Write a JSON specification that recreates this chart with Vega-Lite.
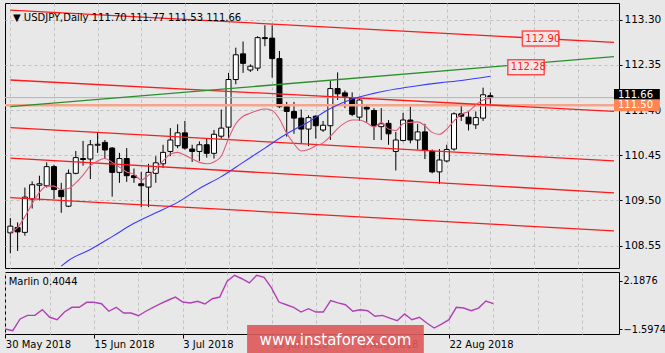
{
  "$schema": "https://vega.github.io/schema/vega-lite/v6.json",
  "background": "#e8e8e8",
  "padding": {"left": 3, "top": 2, "right": 0, "bottom": 0},
  "spacing": 2,
  "config": {
    "font": "DejaVu Sans",
    "view": {"stroke": "#000000", "strokeWidth": 1},
    "axis": {"labelFont": "DejaVu Sans", "labelColor": "#000000", "tickColor": "#000000", "gridColor": "#c0c0c0", "gridDash": [3, 3], "gridWidth": 1}
  },
  "datasets": {
    "candles": [
      {"i":0,"o":108.82,"h":109.13,"l":108.39,"c":108.96},
      {"i":1,"o":108.93,"h":109.04,"l":108.44,"c":108.84},
      {"i":2,"o":108.83,"h":109.77,"l":108.76,"c":109.57},
      {"i":3,"o":109.53,"h":109.90,"l":109.33,"c":109.83},
      {"i":4,"o":109.82,"h":110.02,"l":109.50,"c":109.85},
      {"i":5,"o":109.81,"h":110.30,"l":109.77,"c":110.21},
      {"i":6,"o":110.21,"h":110.25,"l":109.53,"c":109.73},
      {"i":7,"o":109.71,"h":109.87,"l":109.24,"c":109.58},
      {"i":8,"o":109.38,"h":110.15,"l":109.36,"c":110.07},
      {"i":9,"o":110.07,"h":110.54,"l":110.05,"c":110.40},
      {"i":10,"o":110.38,"h":110.75,"l":110.23,"c":110.36},
      {"i":11,"o":110.37,"h":110.77,"l":109.95,"c":110.67},
      {"i":12,"o":110.66,"h":110.94,"l":110.50,"c":110.68},
      {"i":13,"o":110.72,"h":110.77,"l":110.37,"c":110.56},
      {"i":14,"o":110.60,"h":110.62,"l":109.58,"c":110.09},
      {"i":15,"o":110.09,"h":110.50,"l":109.87,"c":110.38},
      {"i":16,"o":110.38,"h":110.60,"l":109.89,"c":110.02},
      {"i":17,"o":110.02,"h":110.17,"l":109.87,"c":109.98},
      {"i":18,"o":109.85,"h":110.10,"l":109.36,"c":109.81},
      {"i":19,"o":109.78,"h":110.27,"l":109.36,"c":110.09},
      {"i":20,"o":110.07,"h":110.43,"l":109.87,"c":110.29},
      {"i":21,"o":110.27,"h":110.67,"l":110.18,"c":110.51},
      {"i":22,"o":110.53,"h":111.02,"l":110.43,"c":110.77},
      {"i":23,"o":110.65,"h":111.10,"l":110.60,"c":110.92},
      {"i":24,"o":110.92,"h":111.17,"l":110.57,"c":110.60},
      {"i":25,"o":110.58,"h":110.67,"l":110.31,"c":110.53},
      {"i":26,"o":110.53,"h":110.74,"l":110.33,"c":110.67},
      {"i":27,"o":110.67,"h":110.80,"l":110.40,"c":110.49},
      {"i":28,"o":110.49,"h":110.98,"l":110.38,"c":110.89},
      {"i":29,"o":110.85,"h":111.41,"l":110.80,"c":111.02},
      {"i":30,"o":111.04,"h":112.18,"l":110.80,"c":112.04},
      {"i":31,"o":112.04,"h":112.71,"l":111.94,"c":112.56},
      {"i":32,"o":112.58,"h":112.84,"l":112.18,"c":112.38},
      {"i":33,"o":112.24,"h":112.36,"l":112.20,"c":112.32},
      {"i":34,"o":112.28,"h":112.95,"l":112.22,"c":112.92},
      {"i":35,"o":112.92,"h":113.18,"l":112.74,"c":112.90},
      {"i":36,"o":112.91,"h":113.18,"l":112.08,"c":112.48},
      {"i":37,"o":112.48,"h":112.64,"l":111.44,"c":111.47},
      {"i":38,"o":111.47,"h":111.57,"l":110.84,"c":111.37},
      {"i":39,"o":111.37,"h":111.57,"l":110.90,"c":111.23},
      {"i":40,"o":111.23,"h":111.41,"l":110.70,"c":111.00},
      {"i":41,"o":111.00,"h":111.29,"l":110.64,"c":111.24},
      {"i":42,"o":111.27,"h":111.29,"l":110.80,"c":111.07},
      {"i":43,"o":110.98,"h":111.17,"l":110.94,"c":111.08},
      {"i":44,"o":111.07,"h":112.01,"l":110.77,"c":111.85},
      {"i":45,"o":111.85,"h":112.19,"l":111.61,"c":111.74},
      {"i":46,"o":111.76,"h":111.81,"l":111.44,"c":111.69},
      {"i":47,"o":111.65,"h":111.77,"l":111.27,"c":111.31},
      {"i":48,"o":111.25,"h":111.64,"l":111.17,"c":111.61},
      {"i":49,"o":111.46,"h":111.52,"l":111.14,"c":111.42},
      {"i":50,"o":111.39,"h":111.44,"l":110.77,"c":111.07},
      {"i":51,"o":111.05,"h":111.44,"l":110.77,"c":111.11},
      {"i":52,"o":111.12,"h":111.19,"l":110.67,"c":110.90},
      {"i":53,"o":110.53,"h":110.94,"l":110.13,"c":110.77},
      {"i":54,"o":110.76,"h":111.34,"l":110.74,"c":111.19},
      {"i":55,"o":111.19,"h":111.47,"l":110.70,"c":110.77},
      {"i":56,"o":110.77,"h":111.11,"l":110.57,"c":110.94},
      {"i":57,"o":110.94,"h":111.11,"l":110.37,"c":110.56},
      {"i":58,"o":110.53,"h":110.57,"l":110.07,"c":110.10},
      {"i":59,"o":110.10,"h":110.58,"l":109.85,"c":110.35},
      {"i":60,"o":110.33,"h":110.67,"l":110.30,"c":110.57},
      {"i":61,"o":110.58,"h":111.35,"l":110.55,"c":111.32},
      {"i":62,"o":111.32,"h":111.51,"l":111.17,"c":111.27},
      {"i":63,"o":111.25,"h":111.37,"l":110.97,"c":111.11},
      {"i":64,"o":111.09,"h":111.37,"l":111.00,"c":111.24},
      {"i":65,"o":111.23,"h":111.87,"l":111.17,"c":111.72},
      {"i":66,"o":111.70,"h":111.77,"l":111.53,"c":111.66}
    ],
    "fast": [
      {"i":0,"p":108.83},{"i":1,"p":108.93},{"i":2,"p":109.16},{"i":3,"p":109.43},{"i":4,"p":109.67},
      {"i":5,"p":109.80},{"i":6,"p":109.80},{"i":7,"p":109.73},{"i":8,"p":109.75},{"i":9,"p":109.87},
      {"i":10,"p":110.03},{"i":11,"p":110.23},{"i":12,"p":110.33},{"i":13,"p":110.38},{"i":14,"p":110.30},
      {"i":15,"p":110.20},{"i":16,"p":110.10},{"i":17,"p":110.05},{"i":18,"p":109.93},{"i":19,"p":110.03},
      {"i":20,"p":110.17},{"i":21,"p":110.33},{"i":22,"p":110.47},{"i":23,"p":110.51},{"i":24,"p":110.45},
      {"i":25,"p":110.37},{"i":26,"p":110.30},{"i":27,"p":110.27},{"i":28,"p":110.31},{"i":29,"p":110.43},
      {"i":30,"p":110.80},{"i":31,"p":111.11},{"i":32,"p":111.27},{"i":33,"p":111.33},{"i":34,"p":111.39},
      {"i":35,"p":111.42},{"i":36,"p":111.39},{"i":37,"p":111.21},{"i":38,"p":110.91},{"i":39,"p":110.69},
      {"i":40,"p":110.54},{"i":41,"p":110.57},{"i":42,"p":110.65},{"i":43,"p":110.71},{"i":44,"p":110.85},
      {"i":45,"p":111.01},{"i":46,"p":111.13},{"i":47,"p":111.19},{"i":48,"p":111.19},{"i":49,"p":111.13},
      {"i":50,"p":111.04},{"i":51,"p":111.14},{"i":52,"p":111.00},{"i":53,"p":110.97},{"i":54,"p":111.11},
      {"i":55,"p":111.14},{"i":56,"p":111.15},{"i":57,"p":111.07},{"i":58,"p":110.93},{"i":59,"p":110.89},
      {"i":60,"p":111.00},{"i":61,"p":111.17},{"i":62,"p":111.31},{"i":63,"p":111.37},{"i":64,"p":111.51},
      {"i":65,"p":111.61},{"i":66,"p":111.65}
    ],
    "slow": [
      {"i":7,"p":108.12},{"i":8,"p":108.24},{"i":11,"p":108.47},{"i":14,"p":108.74},{"i":17,"p":109.02},
      {"i":20,"p":109.24},{"i":23,"p":109.46},{"i":26,"p":109.75},{"i":29,"p":110.00},{"i":32,"p":110.30},
      {"i":35,"p":110.60},{"i":38,"p":110.90},{"i":41,"p":111.15},{"i":44,"p":111.43},{"i":47,"p":111.63},
      {"i":50,"p":111.75},{"i":53,"p":111.84},{"i":56,"p":111.91},{"i":59,"p":111.97},{"i":62,"p":112.02},
      {"i":66,"p":112.11}
    ],
    "channel": [
      {"line":"L1","i":0,"p":113.50},{"line":"L1","i":83,"p":112.82},
      {"line":"L2","i":0,"p":112.03},{"line":"L2","i":83,"p":111.37},
      {"line":"L3","i":0,"p":111.03},{"line":"L3","i":83,"p":110.33},
      {"line":"L4","i":0,"p":110.39},{"line":"L4","i":83,"p":109.66},
      {"line":"L5","i":0,"p":109.56},{"line":"L5","i":83,"p":108.86},
      {"line":"G","i":0,"p":111.47},{"line":"G","i":83,"p":112.52}
    ],
    "levels": [
      {"label":"112.90","level":112.90,"from":70.4,"to":75.4},
      {"label":"112.28","level":112.30,"from":68.4,"to":73.4}
    ],
    "marlin": [
      {"i":0,"v":-1.59},{"i":1,"v":-1.72},{"i":2,"v":-0.80},{"i":3,"v":-0.52},{"i":4,"v":-0.52},
      {"i":5,"v":-0.07},{"i":6,"v":-0.67},{"i":7,"v":-0.86},{"i":8,"v":-0.26},{"i":9,"v":0.11},
      {"i":10,"v":0.11},{"i":11,"v":0.50},{"i":12,"v":0.50},{"i":13,"v":0.39},{"i":14,"v":-0.20},
      {"i":15,"v":0.11},{"i":16,"v":-0.34},{"i":17,"v":-0.34},{"i":18,"v":-0.55},{"i":19,"v":-0.20},
      {"i":20,"v":0.11},{"i":21,"v":0.39},{"i":22,"v":0.66},{"i":23,"v":0.91},{"i":24,"v":0.52},
      {"i":25,"v":0.45},{"i":26,"v":0.58},{"i":27,"v":0.37},{"i":28,"v":0.78},{"i":29,"v":0.91},
      {"i":30,"v":2.14},{"i":31,"v":2.61},{"i":32,"v":2.34},{"i":33,"v":2.01},{"i":34,"v":2.61},
      {"i":35,"v":2.45},{"i":36,"v":1.62},{"i":37,"v":0.52},{"i":38,"v":0.31},{"i":39,"v":0.11},
      {"i":40,"v":-0.26},{"i":41,"v":0.00},{"i":42,"v":-0.26},{"i":43,"v":-0.26},{"i":44,"v":0.63},
      {"i":45,"v":0.45},{"i":46,"v":0.31},{"i":47,"v":-0.20},{"i":48,"v":-0.08},{"i":49,"v":-0.16},
      {"i":50,"v":-0.59},{"i":51,"v":-0.52},{"i":52,"v":-0.73},{"i":53,"v":-0.94},{"i":54,"v":-0.41},
      {"i":55,"v":-0.86},{"i":56,"v":-0.67},{"i":57,"v":-1.12},{"i":58,"v":-1.51},{"i":59,"v":-1.20},
      {"i":60,"v":-0.86},{"i":61,"v":0.11},{"i":62,"v":0.05},{"i":63,"v":-0.16},{"i":64,"v":0.05},
      {"i":65,"v":0.60},{"i":66,"v":0.40}
    ]
  },
  "vconcat": [
    {
      "width": 614,
      "height": 265,
      "layer": [
        {
          "data": {"name": "candles"},
          "mark": {"type": "rule", "color": "#000000", "strokeWidth": 1, "clip": true},
          "encoding": {
            "x": {"field": "i", "type": "quantitative", "title": null,
                  "scale": {"domain": [-0.046, 83.0], "nice": false, "zero": false},
                  "axis": {"values": [0,6,12,18,24,30,36,42,48,54,60,66,72,78], "labels": false, "ticks": false, "domain": false, "grid": true, "title": null}},
            "y": {"field": "l", "type": "quantitative", "title": null,
                  "scale": {"domain": [108.186, 113.543], "nice": false, "zero": false},
                  "axis": {"orient": "right", "values": [108.55, 109.5, 110.45, 111.4, 112.35, 113.3], "format": ".2f", "grid": true, "domain": false, "tickSize": 3, "labelPadding": 2, "labelFontSize": 10.5, "labelBaseline": "middle", "title": null}},
            "y2": {"field": "h"}
          }
        },
        {
          "data": {"name": "candles"},
          "mark": {"type": "bar", "width": 5, "stroke": "#000000", "strokeWidth": 1, "clip": true},
          "encoding": {
            "x": {"field": "i", "type": "quantitative"},
            "y": {"field": "o", "type": "quantitative"},
            "y2": {"field": "c"},
            "fill": {"condition": {"test": "datum.c >= datum.o", "value": "#ffffff"}, "value": "#000000"}
          }
        },
        {
          "data": {"values": [{"price": 111.66}]},
          "mark": {"type": "rule", "color": "#b4b4b4", "strokeWidth": 1},
          "encoding": {"y": {"field": "price", "type": "quantitative"}}
        },
        {
          "data": {"values": [{"price": 111.50}]},
          "mark": {"type": "rule", "color": "#f5a58d", "strokeWidth": 2.5},
          "encoding": {"y": {"field": "price", "type": "quantitative"}}
        },
        {
          "data": {"name": "channel"},
          "mark": {"type": "line", "strokeWidth": 1.3, "clip": true},
          "encoding": {
            "x": {"field": "i", "type": "quantitative"},
            "y": {"field": "p", "type": "quantitative"},
            "color": {"field": "line", "type": "nominal", "legend": null,
                      "scale": {"domain": ["L1","L2","L3","L4","L5","G"], "range": ["#ff1a1a","#ff1a1a","#ff1a1a","#ff1a1a","#ff1a1a","#2a8f2a"]}}
          }
        },
        {
          "data": {"name": "slow"},
          "mark": {"type": "line", "color": "#3a3aff", "strokeWidth": 1.1, "interpolate": "monotone", "clip": true},
          "encoding": {
            "x": {"field": "i", "type": "quantitative"},
            "y": {"field": "p", "type": "quantitative"}
          }
        },
        {
          "data": {"name": "fast"},
          "mark": {"type": "line", "color": "#e05a76", "strokeWidth": 1.1, "interpolate": "monotone", "clip": true},
          "encoding": {
            "x": {"field": "i", "type": "quantitative"},
            "y": {"field": "p", "type": "quantitative"}
          }
        },
        {
          "data": {"name": "levels"},
          "mark": {"type": "bar", "height": 15, "fill": "#f4e6e6", "stroke": "#ff4d4d", "strokeWidth": 1.5},
          "encoding": {
            "x": {"field": "from", "type": "quantitative"},
            "x2": {"field": "to"},
            "y": {"field": "level", "type": "quantitative"}
          }
        },
        {
          "data": {"name": "levels"},
          "mark": {"type": "text", "align": "left", "baseline": "middle", "dx": 3, "fontSize": 10, "color": "#ff2020"},
          "encoding": {
            "x": {"field": "from", "type": "quantitative"},
            "y": {"field": "level", "type": "quantitative"},
            "text": {"field": "label"}
          }
        },
        {
          "data": {"values": [{"price": 111.66, "label": "111.66"}]},
          "mark": {"type": "bar", "height": 11.5, "fill": "#000000", "yOffset": -3, "clip": false},
          "encoding": {
            "x": {"datum": 83.0, "type": "quantitative"},
            "x2": {"datum": 89.3},
            "y": {"field": "price", "type": "quantitative"}
          }
        },
        {
          "data": {"values": [{"price": 111.50, "label": "111.50"}]},
          "mark": {"type": "bar", "height": 12, "fill": "#ff8552", "clip": false},
          "encoding": {
            "x": {"datum": 83.0, "type": "quantitative"},
            "x2": {"datum": 89.3},
            "y": {"field": "price", "type": "quantitative"}
          }
        },
        {
          "data": {"values": [{"price": 111.66, "label": "111.66"}]},
          "mark": {"type": "text", "align": "left", "baseline": "middle", "dx": 4, "yOffset": -3, "fontSize": 10, "color": "#ffffff", "clip": false},
          "encoding": {
            "x": {"datum": 83.0, "type": "quantitative"},
            "y": {"field": "price", "type": "quantitative"},
            "text": {"field": "label"}
          }
        },
        {
          "data": {"values": [{"price": 111.50, "label": "111.50"}]},
          "mark": {"type": "text", "align": "left", "baseline": "middle", "dx": 4, "fontSize": 10, "color": "#ffffff", "clip": false},
          "encoding": {
            "x": {"datum": 83.0, "type": "quantitative"},
            "y": {"field": "price", "type": "quantitative"},
            "text": {"field": "label"}
          }
        },
        {
          "data": {"values": [{"label": "▼  USDJPY,Daily  111.70 111.77 111.53 111.66"}]},
          "mark": {"type": "text", "align": "left", "baseline": "middle", "fontSize": 10, "color": "#000000"},
          "encoding": {
            "x": {"datum": 0.36, "type": "quantitative"},
            "y": {"datum": 113.33, "type": "quantitative"},
            "text": {"field": "label"}
          }
        }
      ]
    },
    {
      "width": 614,
      "height": 62,
      "layer": [
        {
          "data": {"name": "marlin"},
          "mark": {"type": "line", "color": "#b040b4", "strokeWidth": 1.4, "clip": true},
          "encoding": {
            "x": {"field": "i", "type": "quantitative", "title": null,
                  "scale": {"domain": [-0.046, 83.0], "nice": false, "zero": false},
                  "axis": {"values": [0,6,12,18,24,30,36,42,48,54,60,66,72,78], "grid": true, "domain": false, "title": null,
                           "labelExpr": "datum.value==0?'30 May 2018':datum.value==12?'15 Jun 2018':datum.value==24?'3 Jul 2018':datum.value==36?'19 Jul 2018':datum.value==48?'6 Aug 2018':datum.value==60?'22 Aug 2018':''",
                           "labelAlign": "left", "labelFontSize": 10, "labelPadding": 1, "tickSize": 4, "labelOverlap": false, "labelFlush": false,
                           "tickOpacity": {"condition": {"test": "datum.value % 12 === 0 && datum.value <= 60", "value": 1}, "value": 0}}},
            "y": {"field": "v", "type": "quantitative", "title": null,
                  "scale": {"domain": [-1.977, 2.867], "nice": false, "zero": false},
                  "axis": {"orient": "right", "values": [-1.5974, 0, 2.1876], "grid": true, "domain": false, "tickSize": 3, "labelPadding": 1, "labelFontSize": 9.8, "title": null,
                           "labelExpr": "datum.value == 0 ? '0.00' : format(datum.value, '.4f')",
                           "gridOpacity": {"condition": {"test": "datum.value === 0", "value": 1}, "value": 0}}}
          }
        },
        {
          "data": {"values": [{"label": "Marlin 0.4044"}]},
          "mark": {"type": "text", "align": "left", "baseline": "middle", "fontSize": 10, "color": "#000000"},
          "encoding": {
            "x": {"datum": 0.45, "type": "quantitative"},
            "y": {"datum": 2.09, "type": "quantitative"},
            "text": {"field": "label"}
          }
        },
        {
          "data": {"values": [{"label": "www.instaforex.com"}]},
          "mark": {"type": "bar", "fill": "#dc5a5a", "opacity": 0.92, "clip": false},
          "encoding": {
            "x": {"datum": 32.7, "type": "quantitative"},
            "x2": {"datum": 56.6},
            "y": {"datum": -1.27, "type": "quantitative"},
            "y2": {"datum": -3.70}
          }
        },
        {
          "data": {"values": [{"label": "www.instaforex.com"}]},
          "mark": {"type": "text", "align": "center", "baseline": "middle", "fontSize": 15, "color": "#ffffff", "clip": false},
          "encoding": {
            "x": {"datum": 44.65, "type": "quantitative"},
            "y": {"datum": -2.48, "type": "quantitative"},
            "text": {"field": "label"}
          }
        }
      ]
    }
  ]
}
